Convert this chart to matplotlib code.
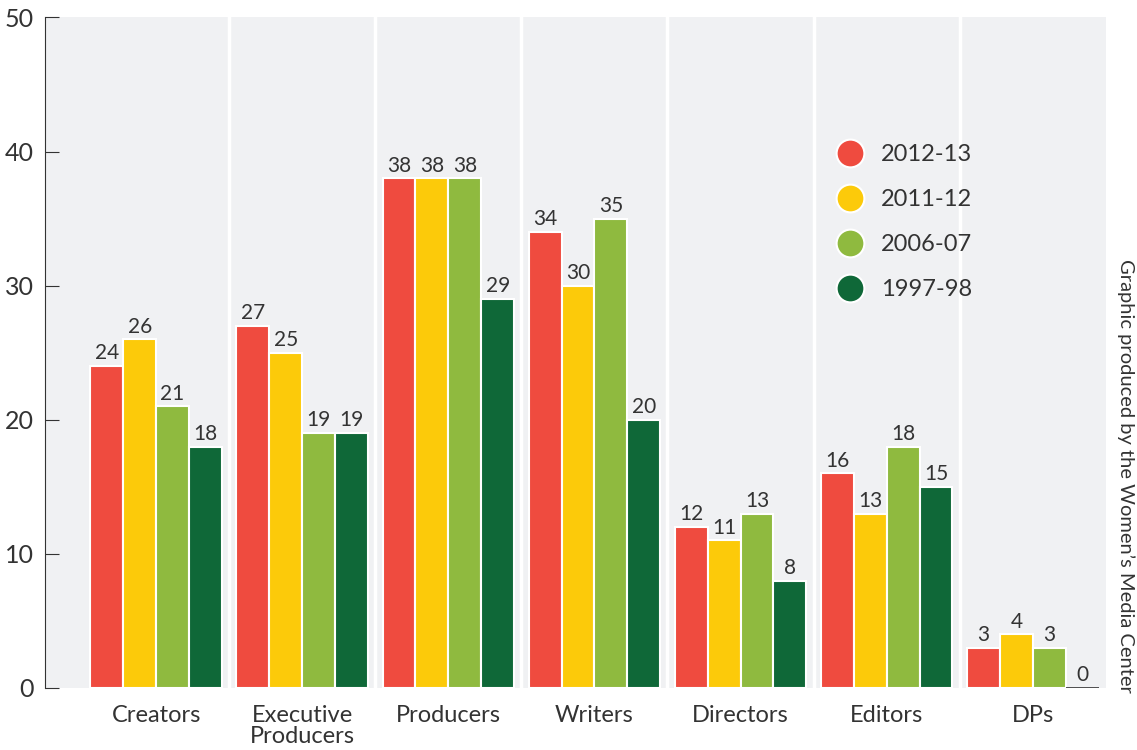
import matplotlib.pyplot as plt
import numpy as np

plt.rcParams['font.family'] = ['Lato', 'DejaVu Sans']

categories = ['Creators', 'Executive\nProducers', 'Producers', 'Writers',
              'Directors', 'Editors', 'DPs']
seasons = ['2012-13', '2011-12', '2006-07', '1997-98']
v_2012 = [24, 27, 38, 34, 12, 16, 3]
v_2011 = [26, 25, 38, 30, 11, 13, 4]
v_2006 = [21, 19, 38, 35, 13, 18, 3]
v_1997 = [18, 19, 29, 20, 8, 15, 0]
series = [v_2012, v_2011, v_2006, v_1997]
colors = ['#ef4b3f', '#fcca0a', '#8fba3f', '#0f6838']

txt = '#333333'
fig = plt.figure(figsize=(11.37, 7.5), dpi=100)
ax = fig.add_axes([0.0396, 0.0827, 0.933, 0.894])
ax.set_facecolor('#f0f1f3')

x = np.arange(len(categories))
w = 0.225
for k, (vals, c) in enumerate(zip(series, colors)):
    pos = x + (k - 1.5) * w
    for p, v in zip(pos, vals):
        if v == 0:
            ax.bar(p, 0, w, color=c, edgecolor=txt, linewidth=1.2, zorder=3)
        else:
            ax.bar(p, v, w, color=c, edgecolor='white', linewidth=1.5, zorder=3)
        ax.annotate(str(v), (p, v), xytext=(0, 2), textcoords='offset points',
                    ha='center', va='bottom', fontsize=15, color=txt)

for s in x[:-1] + 0.5:
    ax.axvline(s, color='white', linewidth=2.5, zorder=1)

ax.set_xlim(-0.76, 6.5)
ax.set_ylim(0, 50)
ax.set_yticks(range(0, 51, 10))
ax.tick_params(axis='y', direction='in', length=10, color=txt, labelsize=18,
               labelcolor=txt, pad=8)
ax.set_xticks(x)
ax.set_xticklabels(categories, fontsize=17, color=txt, linespacing=1.05)
ax.tick_params(axis='x', length=0, pad=12)
for side in ['top', 'right', 'bottom']:
    ax.spines[side].set_visible(False)
ax.spines['left'].set_color(txt)

handles = [plt.Line2D([], [], marker='o', linestyle='', markersize=20,
                      markerfacecolor=c, markeredgecolor='white',
                      markeredgewidth=1.5) for c in colors]
ax.legend(handles, seasons, loc='upper left', bbox_to_anchor=(0.717, 0.843),
          frameon=False, fontsize=17, labelspacing=1.02, handletextpad=0.3,
          labelcolor=txt)

fig.text(0.99, 0.365, "Graphic produced by the Women\u2019s Media Center",
         rotation=-90, ha='center', va='center', fontsize=14.5, color=txt)

fig.savefig('out.png', dpi=100)
